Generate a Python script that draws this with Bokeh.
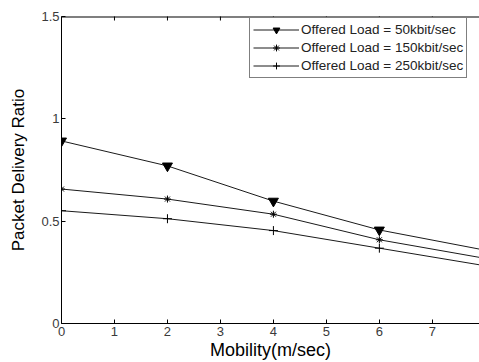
import math
from bokeh.plotting import figure
from bokeh.models import Range1d, FixedTicker, Legend, LegendItem, Span
from bokeh.embed import file_html
from bokeh.resources import INLINE

mobility = [0, 2, 4, 6, 8]
load_50 = [0.892, 0.770, 0.598, 0.457, 0.358]
load_150 = [0.657, 0.608, 0.534, 0.409, 0.318]
load_250 = [0.551, 0.512, 0.454, 0.368, 0.282]
series_labels = ["Offered Load = 50kbit/sec", "Offered Load = 150kbit/sec", "Offered Load = 250kbit/sec"]
x_ticks = [0, 1, 2, 3, 4, 5, 6, 7]
y_ticks = [0, 0.5, 1, 1.5]
y_tick_labels = {0: "0", 0.5: "0.5", 1: "1", 1.5: "1.5"}
x_max = 7.89
y_max = 1.5

FONT = "Liberation Sans"

p = figure(width=479, height=362, output_backend="svg", toolbar_location=None,
           x_range=Range1d(0, x_max), y_range=Range1d(0, y_max),
           min_border_left=61, min_border_right=0, min_border_top=16, min_border_bottom=38,
           x_axis_label="Mobility(m/sec)", y_axis_label="Packet Delivery Ratio")
p.outline_line_color = None
p.grid.visible = False
p.background_fill_color = "white"

for ax in (p.xaxis[0], p.yaxis[0]):
    ax.major_tick_in = 4
    ax.major_tick_out = 0
    ax.minor_tick_line_color = None
    ax.axis_line_color = "black"
    ax.major_tick_line_color = "black"
    ax.major_label_text_font = FONT
    ax.major_label_text_font_size = "13px"
    ax.major_label_text_color = "#3a3a3a"
    ax.axis_label_text_font = FONT
    ax.axis_label_text_font_size = "17px"
    ax.axis_label_text_font_style = "normal"
    ax.axis_label_text_color = "black"

p.xaxis.ticker = FixedTicker(ticks=x_ticks)
p.yaxis.ticker = FixedTicker(ticks=y_ticks)
p.yaxis.major_label_overrides = y_tick_labels
p.xaxis.major_label_standoff = 3
p.xaxis.axis_label_standoff = 1
p.xaxis.axis_label_text_font_size = "18px"
p.yaxis.major_label_standoff = 2
p.yaxis.axis_label_standoff = 10

# top frame line with inward ticks
p.add_layout(Span(location=y_max, dimension="width", line_color="black", line_width=2))
p.scatter(x_ticks, [y_max] * len(x_ticks), marker="dash", angle=math.pi / 2, size=8,
          line_color="black", line_width=1)

line_color = "#1a1a1a"
r1l = p.line(mobility, load_50, line_color=line_color, line_width=1)
r1m = p.scatter(mobility, load_50, marker="inverted_triangle", size=10, fill_color="black", line_color="black")
r2l = p.line(mobility, load_150, line_color=line_color, line_width=1)
r2m = p.scatter(mobility, load_150, marker="asterisk", size=7, line_color="black", line_width=1)
r3l = p.line(mobility, load_250, line_color=line_color, line_width=1)
r3m = p.scatter(mobility, load_250, marker="cross", size=9, line_color="black", line_width=1)

legend = Legend(items=[
    LegendItem(label=series_labels[0], renderers=[r1l, r1m]),
    LegendItem(label=series_labels[1], renderers=[r2l, r2m]),
    LegendItem(label=series_labels[2], renderers=[r3l, r3m]),
], location=(188, 245))
legend.label_text_font = FONT
legend.label_text_font_size = "13.5px"
legend.label_text_color = "#222222"
legend.glyph_width = 46
legend.glyph_height = 17
legend.label_height = 17
legend.spacing = 1
legend.padding = 3
legend.margin = 0
legend.label_standoff = 2
legend.border_line_color = "black"
legend.border_line_width = 1
legend.background_fill_alpha = 1
p.add_layout(legend, "center")

open("out.html", "w").write(file_html(p, INLINE))
